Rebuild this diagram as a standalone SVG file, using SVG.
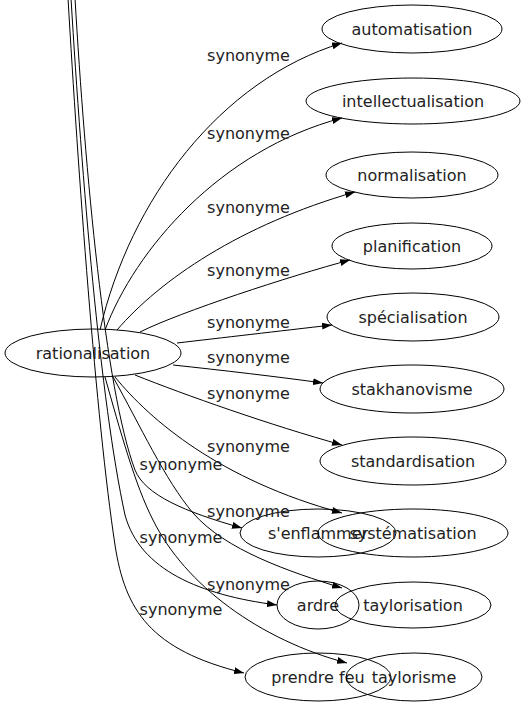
<svg xmlns="http://www.w3.org/2000/svg" width="525" height="707" viewBox="0 0 525 707">
<defs>
<style>
.n ellipse{fill:none;stroke:#000;stroke-width:1}
.n text{font-family:"DejaVu Sans",sans-serif;font-size:16px;text-anchor:middle;fill:#222}
.e path{fill:none;stroke:#000;stroke-width:1;marker-end:url(#ah)}
.lbl{font-family:"DejaVu Sans",sans-serif;font-size:16px;text-anchor:middle;fill:#222}
</style>
<marker id="ah" viewBox="0 0 10 7" refX="10" refY="3.5" markerUnits="userSpaceOnUse" markerWidth="10" markerHeight="7" orient="auto">
<path d="M0,0 L10,3.5 L0,7 Z" fill="#000"/>
</marker>
</defs>
<rect width="525" height="707" fill="#fff"/>
<g id="rationalisation" class="n"><ellipse cx="93" cy="353" rx="88" ry="24"/><text x="93" y="359">rationalisation</text></g>
<g id="automatisation" class="n"><ellipse cx="412" cy="29" rx="90" ry="24"/><text x="412" y="35">automatisation</text></g>
<g id="intellectualisation" class="n"><ellipse cx="413" cy="101" rx="107" ry="23"/><text x="413" y="107">intellectualisation</text></g>
<g id="normalisation" class="n"><ellipse cx="412" cy="175" rx="86" ry="23"/><text x="412" y="181">normalisation</text></g>
<g id="planification" class="n"><ellipse cx="412" cy="246" rx="80" ry="23"/><text x="412" y="252">planification</text></g>
<g id="specialisation" class="n"><ellipse cx="413" cy="317" rx="86" ry="24"/><text x="413" y="323">spécialisation</text></g>
<g id="stakhanovisme" class="n"><ellipse cx="412" cy="389" rx="92" ry="24"/><text x="412" y="395">stakhanovisme</text></g>
<g id="standardisation" class="n"><ellipse cx="413" cy="461" rx="93" ry="24"/><text x="413" y="467">standardisation</text></g>
<g id="senflammer" class="n"><ellipse cx="318" cy="533" rx="78" ry="24"/><text x="318" y="539">s'enflammer</text></g>
<g id="systematisation" class="n"><ellipse cx="413" cy="533" rx="95" ry="24"/><text x="413" y="539">systématisation</text></g>
<g id="ardre" class="n"><ellipse cx="318" cy="605" rx="41" ry="24"/><text x="318" y="611">ardre</text></g>
<g id="taylorisation" class="n"><ellipse cx="413" cy="605" rx="78" ry="23"/><text x="413" y="611">taylorisation</text></g>
<g id="prendrefeu" class="n"><ellipse cx="318" cy="677" rx="73" ry="24"/><text x="318" y="683">prendre feu</text></g>
<g id="taylorisme" class="n"><ellipse cx="414" cy="677" rx="68" ry="24"/><text x="414" y="683">taylorisme</text></g>
<g id="connectors" class="e">
<path d="M100,330 C130,200 220,80 342,43"/>
<path d="M105,330 C135,250 220,150 342,118"/>
<path d="M117,330 C160,280 240,225 355,192"/>
<path d="M140,332 C180,312 290,276 350,260"/>
<path d="M177,343 C220,338 280,331 332,325"/>
<path d="M173,365 C220,370 280,377 323,383"/>
<path d="M135,375 C185,395 270,425 342,445"/>
<path d="M115,377 C150,420 220,480 342,513"/>
<path d="M113,377 C140,425 165,480 193,513 C225,550 290,572 342,588"/>
<path d="M105,377 C120,430 135,485 153,520 C185,585 260,640 347,663"/>
<path d="M68,-2 C78,170 96,420 115,545 C125,610 150,650 244,673"/>
<path d="M71,-2 C82,180 100,400 125,515 C140,570 200,595 277,605"/>
<path d="M75,-2 C85,170 105,390 135,470 C145,495 185,512 242,528"/>
</g>
<g id="labels">
<text class="lbl" x="248.5" y="61">synonyme</text>
<text class="lbl" x="248.5" y="139">synonyme</text>
<text class="lbl" x="248.5" y="213">synonyme</text>
<text class="lbl" x="248.5" y="276">synonyme</text>
<text class="lbl" x="248.5" y="328">synonyme</text>
<text class="lbl" x="248.5" y="363">synonyme</text>
<text class="lbl" x="248.5" y="399">synonyme</text>
<text class="lbl" x="248.5" y="452">synonyme</text>
<text class="lbl" x="248.5" y="517">synonyme</text>
<text class="lbl" x="248.5" y="590">synonyme</text>
<text class="lbl" x="181" y="470">synonyme</text>
<text class="lbl" x="181" y="543">synonyme</text>
<text class="lbl" x="181" y="615">synonyme</text>
</g>
</svg>
